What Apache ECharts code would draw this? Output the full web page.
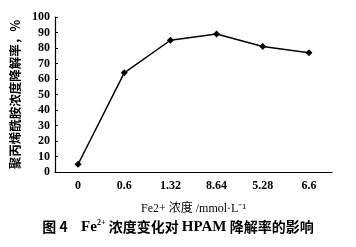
<!DOCTYPE html>
<html><head><meta charset="utf-8">
<script src="https://cdn.jsdelivr.net/npm/echarts@6/dist/echarts.min.js"></script>
<style>html,body{margin:0;padding:0;background:#fff}#c{width:356px;height:247px}</style>
</head><body><div id="c"></div>
<script>
const categories = ['0', '0.6', '1.32', '8.64', '5.28', '6.6'];
const degradation = [5, 64, 85, 89, 81, 77];
const yTicks = [0, 10, 20, 30, 40, 50, 60, 70, 80, 90, 100];

const serif = '"Liberation Serif", "Noto Sans CJK SC", serif';
const chart = echarts.init(document.getElementById('c'), null, {renderer: 'canvas'});
chart.setOption({
  animation: false,
  backgroundColor: '#fff',
  grid: {left: 55, right: 24, top: 17, bottom: 75},
  xAxis: {
    type: 'category',
    data: categories,
    boundaryGap: true,
    axisLine: {lineStyle: {color: '#000', width: 1.2}},
    axisTick: {inside: true, length: 3, lineStyle: {color: '#000'}},
    axisLabel: {color: '#000', fontFamily: serif, fontSize: 12, fontWeight: 'bold', margin: 8},
    name: 'Fe2+ 浓度 /mmol·L⁻¹',
    nameLocation: 'middle',
    nameGap: 31,
    nameTextStyle: {color: '#000', fontFamily: serif, fontSize: 12}
  },
  yAxis: {
    type: 'value',
    min: yTicks[0], max: yTicks[yTicks.length - 1], interval: 10,
    splitLine: {show: false},
    axisLine: {show: true, lineStyle: {color: '#000', width: 1.2}},
    axisTick: {show: true, inside: true, length: 3, lineStyle: {color: '#000'}},
    axisLabel: {color: '#000', fontFamily: serif, fontSize: 12, fontWeight: 'bold', margin: 5},
    name: '聚丙烯酰胺浓度降解率，%',
    nameLocation: 'middle',
    nameRotate: 90,
    nameGap: 33,
    nameTextStyle: {color: '#000', fontFamily: '"Noto Sans CJK SC", sans-serif', fontSize: 12.5, fontWeight: 'bold'}
  },
  series: [{
    type: 'line',
    data: degradation,
    symbol: 'diamond',
    symbolSize: 7,
    lineStyle: {color: '#000', width: 1.5},
    itemStyle: {color: '#000'}
  }],
  graphic: [{
    type: 'text',
    left: 'center',
    top: 219,
    style: {
      text: '{a|图 4}    {b|Fe}{s|2+}{a| 浓度变化对 }{b|HPAM}{a| 降解率的影响}',
      rich: {
        a: {fontFamily: '"Noto Sans CJK SC", sans-serif', fontSize: 14, fontWeight: 'bold', fill: '#000'},
        b: {fontFamily: serif, fontSize: 15, fontWeight: 'bold', fill: '#000'},
        s: {fontFamily: serif, fontSize: 8, fontWeight: 'bold', fill: '#000', verticalAlign: 'top', padding: [0, 0, 8, 0]}
      }
    }
  }]
});
</script></body></html>
